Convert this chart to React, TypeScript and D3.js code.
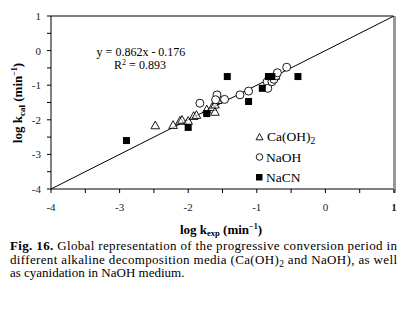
import React from "react";
import * as d3 from "d3";

const xTicks = [-4, -3, -2, -1, 0, 1];
const yTicks = [1, 0, -1, -2, -3, -4];
const minorTicks = [-4, -3.5, -3, -2.5, -2, -1.5, -1, -0.5, 0, 0.5, 1];

const caOH: [number, number][] = [
  [-2.48, -2.16], [-2.22, -2.15], [-2.12, -2.03], [-2.09, -2.0], [-2.0, -2.03],
  [-1.92, -1.89], [-1.88, -1.86], [-1.73, -1.7], [-1.65, -1.63], [-1.61, -1.77],
  [-1.61, -1.56], [-1.57, -1.43], [-0.73, -0.73],
];
const naOH: [number, number][] = [
  [-1.83, -1.52], [-1.58, -1.28], [-1.6, -1.42], [-1.47, -1.41], [-1.245, -1.28],
  [-1.12, -1.17], [-0.85, -0.9], [-0.84, -1.09], [-0.78, -0.9], [-0.75, -0.83],
  [-0.72, -0.73], [-0.7, -0.64], [-0.565, -0.48],
];
const naCN: [number, number][] = [
  [-2.9, -2.6], [-2.0, -2.22], [-1.73, -1.82], [-1.43, -0.75], [-1.12, -1.47],
  [-0.92, -1.09], [-0.83, -0.75], [-0.78, -0.75], [-0.4, -0.75],
];
const fitLine: [number, number][] = [[-4, -4], [1, 1]];

const serif = "'Liberation Serif', 'Times New Roman', serif";

export default function App() {
  const x = d3.scaleLinear().domain([-4, 1]).range([51, 394]);
  const y = d3.scaleLinear().domain([-4, 1]).range([189, 16]);
  const line = d3.line<[number, number]>().x((d) => x(d[0])).y((d) => y(d[1]));
  const tri = (cx: number, cy: number, s = 4.3) =>
    `M${cx},${cy - s}L${cx + s},${cy + s * 0.8}L${cx - s},${cy + s * 0.8}Z`;

  return (
    <svg width={410} height={315} style={{ position: "absolute", left: 0, top: 0, background: "#fff" }}>
      <rect width={410} height={315} fill="#fff" />
      {/* frame */}
      <line x1={51} y1={16} x2={393} y2={16} stroke="#000" strokeWidth={1.2} />
      <line x1={51} y1={16} x2={51} y2={189} stroke="#000" strokeWidth={1} />
      <line x1={51} y1={189} x2={394} y2={189} stroke="#000" strokeWidth={1} />
      <rect x={393} y={16} width={3} height={177} fill="#999" />
      {/* ticks */}
      {minorTicks.map((t) => (
        <line key={"xt" + t} x1={x(t)} x2={x(t)} y1={189} y2={193} stroke="#000" strokeWidth={1} />
      ))}
      {minorTicks.map((t) => (
        <line key={"yt" + t} x1={47} x2={51} y1={y(t)} y2={y(t)} stroke="#000" strokeWidth={1} />
      ))}
      {xTicks.map((t) => (
        <text key={"xl" + t} x={x(t)} y={211} fontFamily={serif} fontSize={11} textAnchor="middle"
          fontWeight={t === 1 ? "bold" : "normal"} fill="#222">
          {t < 0 ? "-" + Math.abs(t) : String(t)}
        </text>
      ))}
      {yTicks.map((t) => (
        <text key={"yl" + t} x={41} y={y(t) + 4} fontFamily={serif} fontSize={11} textAnchor="end" fill="#222">
          {t < 0 ? "-" + Math.abs(t) : String(t)}
        </text>
      ))}
      {/* fit line */}
      <path d={line(fitLine) || ""} fill="none" stroke="#000" strokeWidth={1} />
      {/* data */}
      {caOH.map((d, i) => (
        <path key={"c" + i} d={tri(x(d[0]), y(d[1]))} fill="#fff" fillOpacity={0.6} stroke="#000" strokeWidth={0.9} />
      ))}
      {naOH.map((d, i) => (
        <circle key={"n" + i} cx={x(d[0])} cy={y(d[1])} r={4} fill="#fff" stroke="#000" strokeWidth={0.9} />
      ))}
      {naCN.map((d, i) => (
        <rect key={"s" + i} x={x(d[0]) - 3.5} y={y(d[1]) - 3.5} width={7} height={7} fill="#000" />
      ))}
      {/* equation */}
      <text x={141} y={56} fontFamily={serif} fontSize={12} textAnchor="middle">y = 0.862x - 0.176</text>
      <text x={140} y={69} fontFamily={serif} fontSize={12} textAnchor="middle">
        R<tspan fontSize={8} dy={-4}>2</tspan><tspan dy={4}> = 0.893</tspan>
      </text>
      {/* legend */}
      <path d={tri(259.5, 137, 3.5)} fill="#fff" stroke="#000" strokeWidth={0.9} />
      <text x={267} y={141} fontFamily={serif} fontSize={13.5}>
        Ca(OH)<tspan fontSize={9.5} dy={3}>2</tspan>
      </text>
      <circle cx={259.5} cy={157} r={3.3} fill="#fff" stroke="#000" strokeWidth={0.9} />
      <text x={266} y={161.5} fontFamily={serif} fontSize={13.5}>NaOH</text>
      <rect x={256} y={174} width={6.5} height={6.5} fill="#000" />
      <text x={266} y={181.5} fontFamily={serif} fontSize={13.5}>NaCN</text>
      {/* axis titles */}
      <text x={221} y={233.5} fontFamily={serif} fontSize={13} fontWeight="bold" textAnchor="middle">
        log k<tspan fontSize={8.5} dy={2.5}>exp</tspan><tspan dy={-2.5}> (min</tspan>
        <tspan fontSize={8} dy={-5}>−1</tspan><tspan dy={5}>)</tspan>
      </text>
      <text transform="translate(22,103) rotate(-90)" fontFamily={serif} fontSize={13} fontWeight="bold" textAnchor="middle">
        log k<tspan fontSize={9} dy={3}>cal</tspan><tspan dy={-3}> (min</tspan>
        <tspan fontSize={8} dy={-5}>−1</tspan><tspan dy={5}>)</tspan>
      </text>
      {/* caption */}
      <text x={10} y={250} fontFamily={serif} fontSize={13} textLength={387} lengthAdjust="spacing">
        <tspan fontWeight="bold">Fig. 16.</tspan> Global representation of the progressive conversion period in
      </text>
      <text x={10} y={263.5} fontFamily={serif} fontSize={13} textLength={387} lengthAdjust="spacing">
        different alkaline decomposition media (Ca(OH)<tspan fontSize={9.5} dy={3}>2</tspan><tspan dy={-3}> and NaOH), as well</tspan>
      </text>
      <text x={10} y={277} fontFamily={serif} fontSize={13}>as cyanidation in NaOH medium.</text>
    </svg>
  );
}
